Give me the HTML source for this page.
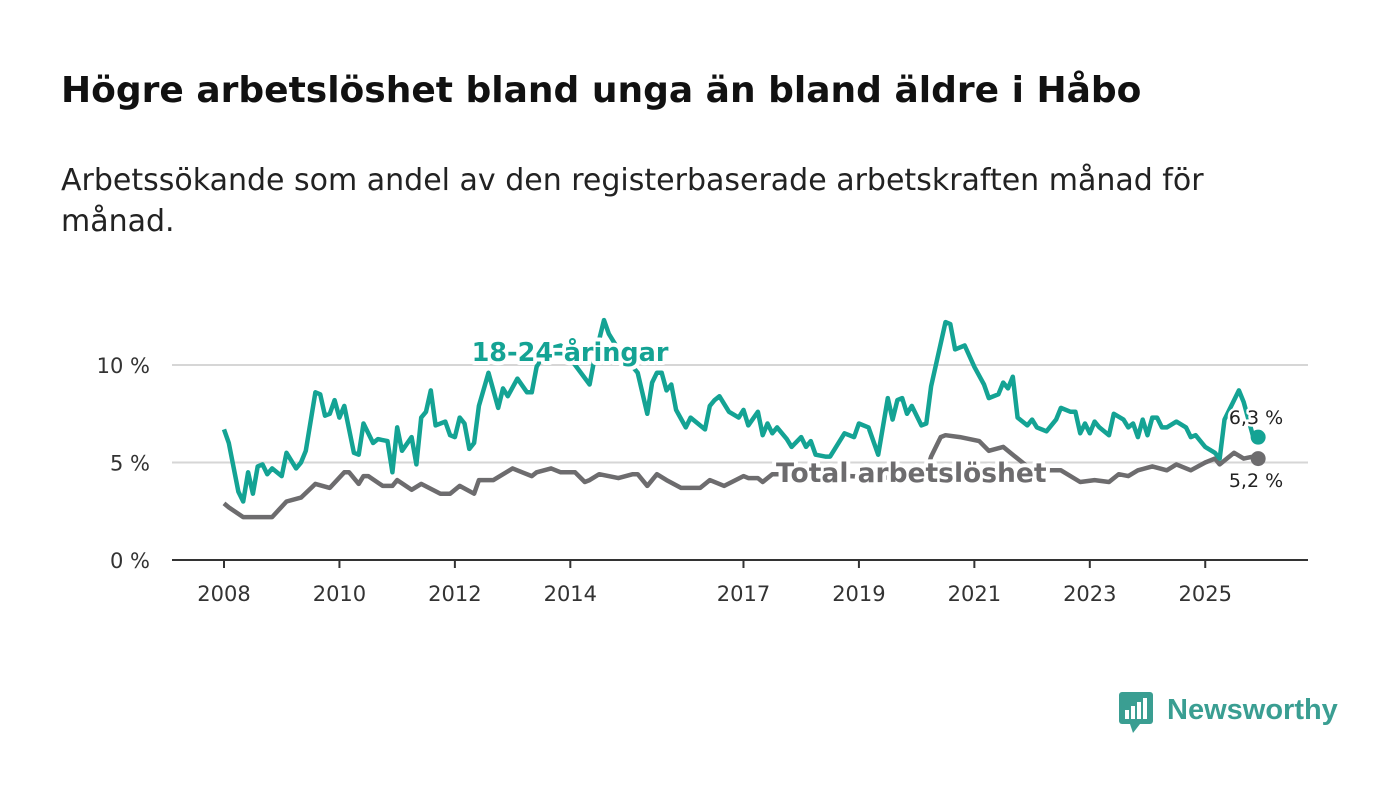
<!DOCTYPE html>
<html><head><meta charset="utf-8"><style>
body{margin:0;background:#fff;width:1400px;height:794px;overflow:hidden;font-family:"DejaVu Sans","Liberation Sans",sans-serif}
h1{position:absolute;left:61px;top:70px;margin:0;font-size:36px;font-weight:bold;color:#111;white-space:nowrap}
p{position:absolute;left:61px;top:160px;margin:0;font-size:30px;line-height:41px;color:#222;width:1240px}
svg{position:absolute;left:0;top:0;font-family:"DejaVu Sans","Liberation Sans",sans-serif}
</style></head><body>
<h1>Högre arbetslöshet bland unga än bland äldre i Håbo</h1>
<p>Arbetssökande som andel av den registerbaserade arbetskraften månad för månad.</p>
<svg width="1400" height="794">
<g id="grid"></g><g id="lines"></g><g id="labels"></g>
<g>
<rect x="1119" y="692" width="34" height="32" rx="3" fill="#3a9e92"/>
<polygon points="1130,724 1140,724 1133,733" fill="#3a9e92"/>
<rect x="1125" y="710" width="4" height="9" fill="#fff"/><rect x="1131" y="706" width="4" height="13" fill="#fff"/><rect x="1137" y="702" width="4" height="17" fill="#fff"/><rect x="1143" y="698" width="4" height="21" fill="#fff"/>
<text x="1167" y="719" font-size="29" font-weight="bold" fill="#3a9e92" font-family="Liberation Sans, sans-serif">Newsworthy</text>
</g>
</svg>
<script>
const yTicks=[0,5,10];
const yTickLabels=["0 %","5 %","10 %"];
const xTickYears=[2008,2010,2012,2014,2017,2019,2021,2023,2025];
const youthMonths=[0,1,3,4,5,6,7,8,9,10,12,13,15,16,17,19,20,21,22,23,24,25,27,28,29,31,32,34,35,36,37,39,40,41,42,43,44,46,47,48,49,50,51,52,53,55,57,58,59,61,63,64,65,67,70,73,76,77,79,80,82,86,88,89,90,91,92,93,94,96,97,100,101,102,103,105,107,108,109,111,112,113,114,115,117,118,120,121,122,123,125,126,129,131,132,134,136,138,139,140,141,142,143,145,146,147,150,151,152,154,156,158,159,161,162,163,164,165,167,168,169,171,173,174,176,177,178,179,180,181,182,184,185,187,188,189,190,191,192,193,194,195,196,198,200,201,202,204,206,207,208,210,211,212,213,214,215];
const youthValues=[6.7,6.0,3.5,3.0,4.5,3.4,4.8,4.9,4.4,4.7,4.3,5.5,4.7,5.0,5.6,8.6,8.5,7.4,7.5,8.2,7.3,7.9,5.5,5.4,7.0,6.0,6.2,6.1,4.5,6.8,5.6,6.3,4.9,7.3,7.6,8.7,6.9,7.1,6.4,6.3,7.3,7.0,5.7,6.0,7.9,9.6,7.8,8.8,8.4,9.3,8.6,8.6,9.9,10.8,11.0,10.0,9.0,10.3,12.3,11.6,10.8,9.6,7.5,9.1,9.6,9.6,8.7,9.0,7.7,6.8,7.3,6.7,7.9,8.2,8.4,7.6,7.3,7.7,6.9,7.6,6.4,7.0,6.5,6.8,6.2,5.8,6.3,5.8,6.1,5.4,5.3,5.3,6.5,6.3,7.0,6.8,5.4,8.3,7.2,8.2,8.3,7.5,7.9,6.9,7.0,8.9,12.2,12.1,10.8,11.0,9.9,9.0,8.3,8.5,9.1,8.8,9.4,7.3,6.9,7.2,6.8,6.6,7.2,7.8,7.6,7.6,6.5,7.0,6.5,7.1,6.8,6.4,7.5,7.2,6.8,7.0,6.3,7.2,6.4,7.3,7.3,6.8,6.8,7.1,6.8,6.3,6.4,5.8,5.5,5.2,7.2,8.2,8.7,8.1,7.2,6.3,6.3];
const totalMonths=[0,1,4,10,13,16,19,22,25,26,28,29,30,33,35,36,39,41,45,47,49,52,53,56,60,62,64,65,68,70,72,73,75,76,78,82,85,86,88,90,92,95,97,99,101,104,108,109,111,112,114,120,130,140,146,147,149,150,153,157,159,162,164,168,172,174,178,181,184,186,188,190,193,196,198,201,204,206,207,210,212,214,215];
const totalValues=[2.9,2.7,2.2,2.2,3.0,3.2,3.9,3.7,4.5,4.5,3.9,4.3,4.3,3.8,3.8,4.1,3.6,3.9,3.4,3.4,3.8,3.4,4.1,4.1,4.7,4.5,4.3,4.5,4.7,4.5,4.5,4.5,4.0,4.1,4.4,4.2,4.4,4.4,3.8,4.4,4.1,3.7,3.7,3.7,4.1,3.8,4.3,4.2,4.2,4.0,4.4,4.4,4.3,4.2,4.5,5.3,6.3,6.4,6.3,6.1,5.6,5.8,5.4,4.6,4.6,4.6,4.0,4.1,4.0,4.4,4.3,4.6,4.8,4.6,4.9,4.6,5.0,5.2,4.9,5.5,5.2,5.3,5.2];
const youthLast="6,3 %", totalLast="5,2 %";
const NS="http://www.w3.org/2000/svg";
const X=m=>224+m*4.81, Y=v=>560-v*19.5;
function mk(t,a,p){const e=document.createElementNS(NS,t);for(const k in a)e.setAttribute(k,a[k]);p.appendChild(e);return e;}
const grid=document.getElementById('grid'),lines=document.getElementById('lines'),labels=document.getElementById('labels');
yTicks.forEach((v,i)=>{
 if(v>0){const g=mk('line',{x1:172,x2:1308,y1:Y(v),y2:Y(v),stroke:'#d6d6d6','stroke-width':2},grid);
 
 }
 const t=mk('text',{x:150,y:Y(v)+8,'text-anchor':'end','font-size':21,fill:'#333'},grid);t.textContent=yTickLabels[i];
 
 
});
const ax=mk('line',{x1:172,x2:1308,y1:560,y2:560,stroke:'#333','stroke-width':2},grid);


xTickYears.forEach(yr=>{const x=X((yr-2008)*12);
 mk('line',{x1:x,x2:x,y1:560,y2:568,stroke:'#333','stroke-width':2},grid);
 const t=mk('text',{x:x,y:601,'text-anchor':'middle','font-size':21,fill:'#333'},grid);t.textContent=yr;
 
 });
function line(ms,vs,col,name){
 const p=mk('path',{d:ms.map((m,i)=>(i?'L':'M')+X(m).toFixed(1)+','+Y(vs[i]).toFixed(1)).join(''),fill:'none',stroke:col,'stroke-width':4.5,'stroke-linejoin':'round'},lines);
 
 
 const c=mk('circle',{cx:X(ms[ms.length-1]),cy:Y(vs[vs.length-1]),r:7.5,fill:col},lines);
 
 
}
line(totalMonths,totalValues,'#6d6c6e','total-line');
line(youthMonths,youthValues,'#14a394','youth-line');
function lab(x,y,txt,col,size,bold,name,anchor){
 const t=mk('text',{x:x,y:y,fill:col,'font-size':size,'font-weight':bold?'bold':'normal',stroke:'#fff','stroke-width':bold?8:5,'paint-order':'stroke','stroke-linejoin':'round','text-anchor':anchor||'start'},labels);
 t.textContent=txt;
 
 
}
lab(570,361,'18-24-åringar','#14a394',25.5,true,'youth-series-label','middle');
lab(776,482,'Total arbetslöshet','#6d6c6e',26.5,true,'total-series-label');
lab(1256,424,youthLast,'#222',19,false,'youth-end-value','middle');
lab(1256,487,totalLast,'#222',19,false,'total-end-value','middle');
</script>
</body></html>
